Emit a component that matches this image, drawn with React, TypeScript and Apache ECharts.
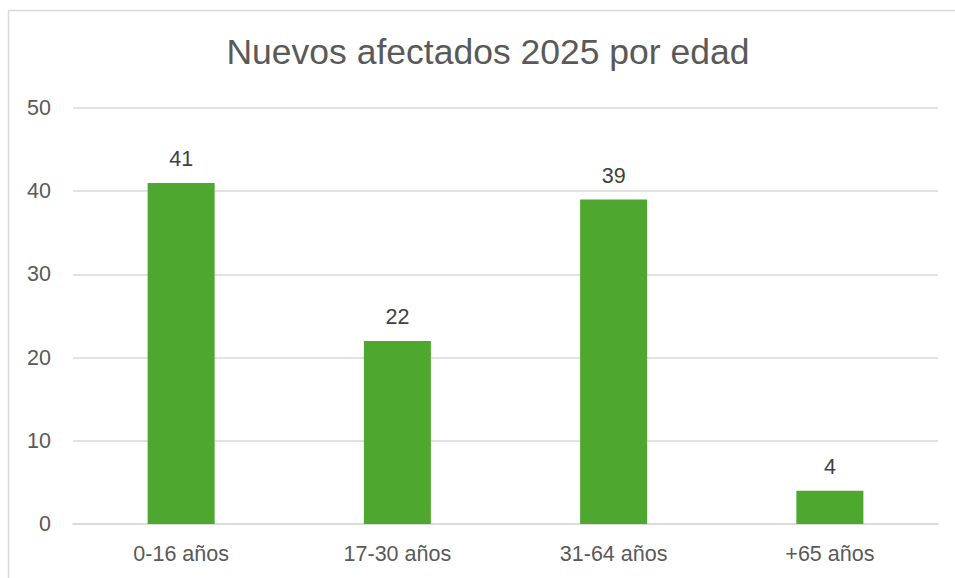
import React, { useEffect, useRef } from "react";
import * as echarts from "echarts";

const titleText = "Nuevos afectados 2025 por edad";
const categories = ["0-16 años", "17-30 años", "31-64 años", "+65 años"];
const values = [41, 22, 39, 4];
const yTicks = { min: 0, max: 50, interval: 10 };

export default function App() {
  const ref = useRef<HTMLDivElement>(null);
  useEffect(() => {
    if (!ref.current) return;
    const chart = echarts.init(ref.current, undefined, { renderer: "svg" });
    const font = "'Liberation Sans', Arial, sans-serif";
    chart.setOption({
      animation: false,
      backgroundColor: "#ffffff",
      textStyle: { fontFamily: font },
      title: {
        text: titleText,
        left: 483,
        top: 29,
        textAlign: "center",
        textStyle: { fontSize: 35.5, fontWeight: "normal", color: "#595959", fontFamily: font },
      },
      graphic: [
        {
          type: "rect",
          shape: { x: 8.5, y: 10.5, width: 1200, height: 1200 },
          style: { fill: "none", stroke: "#d9d9d9", lineWidth: 1.5 },
          silent: true,
        },
      ],
      grid: { left: 73, right: 17, top: 108, bottom: 54, containLabel: false },
      xAxis: {
        type: "category",
        data: categories,
        axisLine: { lineStyle: { color: "#d9d9d9", width: 1.5 } },
        axisTick: { show: false },
        axisLabel: { color: "#595959", fontSize: 21.5, margin: 19, fontFamily: font },
      },
      yAxis: {
        type: "value",
        min: yTicks.min,
        max: yTicks.max,
        interval: yTicks.interval,
        axisLine: { show: false },
        axisTick: { show: false },
        splitLine: { lineStyle: { color: "#d9d9d9", width: 1.5 } },
        axisLabel: { color: "#595959", fontSize: 21.5, margin: 22, fontFamily: font },
      },
      series: [
        {
          type: "bar",
          data: values,
          barWidth: 67,
          itemStyle: { color: "#4EA72E" },
          label: {
            show: true,
            position: "top",
            distance: 13,
            color: "#404040",
            fontSize: 21.5,
            fontFamily: font,
          },
        },
      ],
    });
    return () => chart.dispose();
  }, []);
  return (
    <div
      ref={ref}
      style={{ position: "fixed", left: 0, top: 0, width: 955, height: 578 }}
    />
  );
}
